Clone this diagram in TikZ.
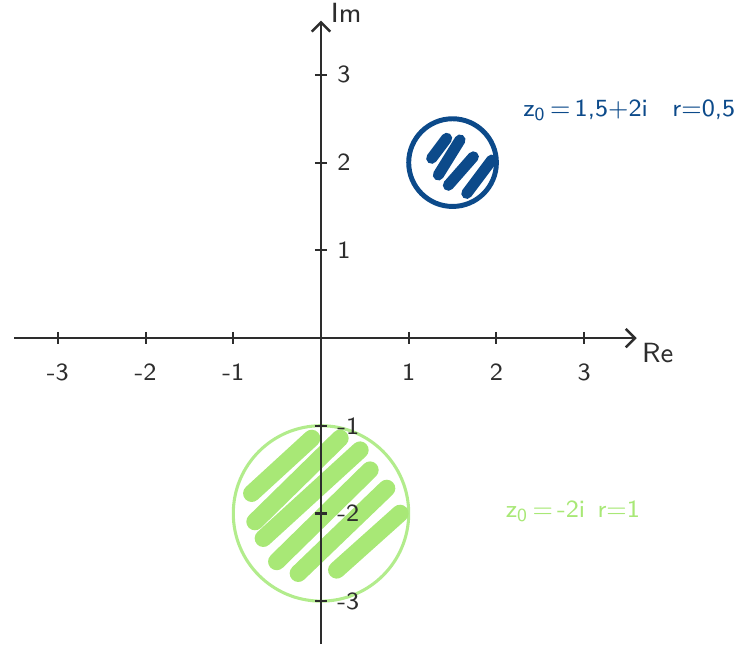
\documentclass[tikz,border=0pt]{standalone}
\usetikzlibrary{arrows.meta, positioning}
\usepackage{xcolor}
\definecolor{axisgray}{RGB}{45, 45, 45}
\definecolor{diskblue}{RGB}{12, 74, 138}
\definecolor{diskgreen}{RGB}{168, 232, 118}
\definecolor{rimgreen}{RGB}{178, 236, 140}
\tikzset{
  axx/.style        = {-{Straight Barb[length=3pt, width=6pt]}, line width=0.8pt, axisgray},
  tickmark/.style   = {line width=0.7pt, axisgray},
  xlbl/.style       = {font=\sffamily\footnotesize, text=axisgray, below=5pt, inner sep=1pt},
  ylbl/.style       = {font=\sffamily\footnotesize, text=axisgray, right=2pt, inner sep=1pt},
  axlbl/.style      = {font=\sffamily\small, text=axisgray, inner sep=1pt},
  rimblue/.style    = {draw=diskblue, line width=1.6pt},
  hatchblue/.style  = {diskblue, line width=3.6pt, line cap=round},
  rimgrn/.style     = {draw=rimgreen, line width=1pt},
  hatchgreen/.style = {diskgreen, line width=5.6pt, line cap=round},
  infoblue/.style   = {font=\sffamily\footnotesize, text=diskblue, anchor=west, inner sep=0pt},
  infogreen/.style  = {font=\sffamily\footnotesize, text=diskgreen, anchor=west, inner sep=0pt},
}

\begin{document}
\begin{tikzpicture}[x=1cm, y=1cm]

\useasboundingbox (-3.660, -3.489) rectangle (4.743, 3.854);

% ==================== Kreisscheibe um -2i ====================
\node[rimgrn, circle, minimum size=2cm, inner sep=0pt] (D2) at (0, -2) {};

\draw[hatchgreen] (-0.790, -1.771) -- (-0.106, -1.144);
\draw[hatchgreen] (-0.753, -2.094) -- (0.217, -1.143);
\draw[hatchgreen] (-0.658, -2.284) -- (0.445, -1.277);
\draw[hatchgreen] (-0.505, -2.549) -- (0.559, -1.505);
\draw[hatchgreen] (-0.259, -2.683) -- (0.749, -1.714);
\draw[hatchgreen] (0.179, -2.645)  -- (0.901, -1.999);

% ==================== Achsen ====================
\coordinate (xmin) at (-3.50, 0);
\coordinate (xmax) at (3.60, 0);
\coordinate (ymin) at (0, -3.49);
\coordinate (ymax) at (0, 3.62);

\draw[axx] (xmin) -- (xmax);
\draw[axx] (ymin) -- (ymax);

\node[axlbl, anchor=north west] (re) at (3.62, -0.02) {Re};
\node[axlbl, anchor=south west] (im) at (0.07, 3.55) {Im};

% ==================== Teilstriche Re ====================
\draw[tickmark] (-3, 0.07) -- (-3, -0.07) node[xlbl] (xm3) {-3};
\draw[tickmark] (-2, 0.07) -- (-2, -0.07) node[xlbl] (xm2) {-2};
\draw[tickmark] (-1, 0.07) -- (-1, -0.07) node[xlbl] (xm1) {-1};
\draw[tickmark] (1, 0.07)  -- (1, -0.07)  node[xlbl] (xp1) {1};
\draw[tickmark] (2, 0.07)  -- (2, -0.07)  node[xlbl] (xp2) {2};
\draw[tickmark] (3, 0.07)  -- (3, -0.07)  node[xlbl] (xp3) {3};

% ==================== Teilstriche Im ====================
\draw[tickmark] (-0.07, 3)  -- (0.07, 3)  node[ylbl] (yp3) {3};
\draw[tickmark] (-0.07, 2)  -- (0.07, 2)  node[ylbl] (yp2) {2};
\draw[tickmark] (-0.07, 1)  -- (0.07, 1)  node[ylbl] (yp1) {1};
\draw[tickmark] (-0.07, -1) -- (0.07, -1) node[ylbl] (ym1) {-1};
\draw[tickmark] (-0.07, -2) -- (0.07, -2) node[ylbl] (ym2) {-2};
\draw[tickmark] (-0.07, -3) -- (0.07, -3) node[ylbl] (ym3) {-3};

% ==================== Kreisscheibe um 1,5+2i ====================
\node[rimblue, circle, minimum size=1cm, inner sep=0pt] (D1) at (1.5, 2) {};

\draw[hatchblue] (1.262, 2.049) -- (1.433, 2.277);
\draw[hatchblue] (1.338, 1.859) -- (1.585, 2.258);
\draw[hatchblue] (1.452, 1.742) -- (1.737, 2.066);
\draw[hatchblue] (1.662, 1.649) -- (1.947, 2.029);

% ==================== Beschriftung ====================
\node[infoblue] (info1) at (2.30, 2.60) {z\textsubscript{0}\,=\,1,5+2i\quad r=0,5};
\node[infogreen] (info2) at (2.10, -1.98) {z\textsubscript{0}\,=\,-2i\enspace r=1};

\end{tikzpicture}
\end{document}
